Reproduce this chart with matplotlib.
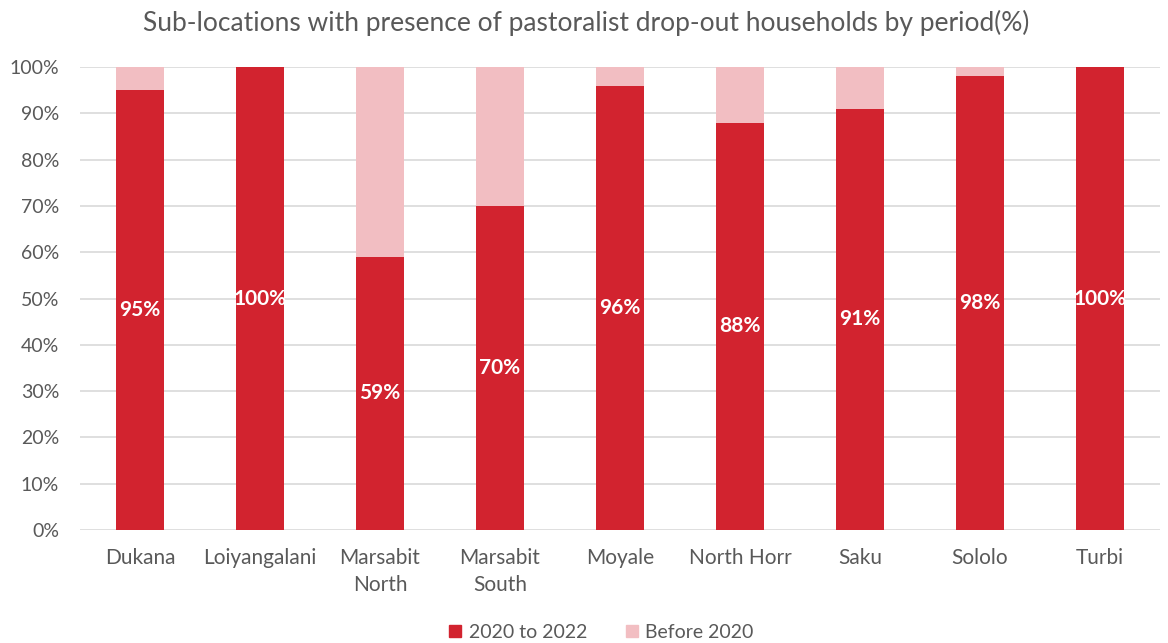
import matplotlib.pyplot as plt
from matplotlib.patches import Patch

categories = ["Dukana", "Loiyangalani", "Marsabit\nNorth", "Marsabit\nSouth",
              "Moyale", "North Horr", "Saku", "Sololo", "Turbi"]
recent = [95, 100, 59, 70, 96, 88, 91, 98, 100]          # 2020 to 2022
before = [100 - v for v in recent]                      # Before 2020
yticks = list(range(0, 101, 10))

RED = "#D2232F"
PINK = "#F2BEC2"
TEXT = "#595959"
GRID = "#D9D9D9"

plt.rcParams['font.family'] = ['Lato', 'DejaVu Sans']

fig = plt.figure(figsize=(11.68, 6.43), dpi=100)
ax = fig.add_axes([0.0685, 0.1757, 0.9245, 0.7201])

x = list(range(len(categories)))
w = 0.4
ax.bar(x, recent, width=w, color=RED, zorder=3, label="2020 to 2022")
ax.bar(x, before, width=w, bottom=recent, color=PINK, zorder=3, label="Before 2020")

for xi, v in zip(x, recent):
    ax.text(xi, v / 2, f"{v}%", ha="center", va="center", color="white",
            fontsize=15, fontweight="bold", zorder=4)

ax.set_xlim(-0.5, len(categories) - 0.5)
ax.set_ylim(0, 100)
ax.set_yticks(yticks)
ax.set_yticklabels([f"{t}%" for t in yticks], fontsize=14)
ax.set_xticks(x)
ax.set_xticklabels(categories, fontsize=15, linespacing=1.45)
ax.grid(axis="y", color=GRID, linewidth=1.2, zorder=0)
ax.tick_params(axis="both", length=0, colors=TEXT)
ax.tick_params(axis="x", pad=13)
ax.tick_params(axis="y", pad=15)
for s in ax.spines.values():
    s.set_visible(False)

fig.text(0.502, 0.965, "Sub-locations with presence of pastoralist drop-out households by period(%)",
         ha="center", va="center", fontsize=19, color=TEXT)

handles = [Patch(color=RED, label="2020 to 2022"), Patch(color=PINK, label="Before 2020")]
fig.legend(handles=handles, loc="center", bbox_to_anchor=(0.515, 0.017), ncol=2,
           frameon=False, fontsize=14, handlelength=0.6, handleheight=0.6,
           columnspacing=2.0, handletextpad=0.4, labelcolor=TEXT)

fig.savefig("out.png", dpi=100)
